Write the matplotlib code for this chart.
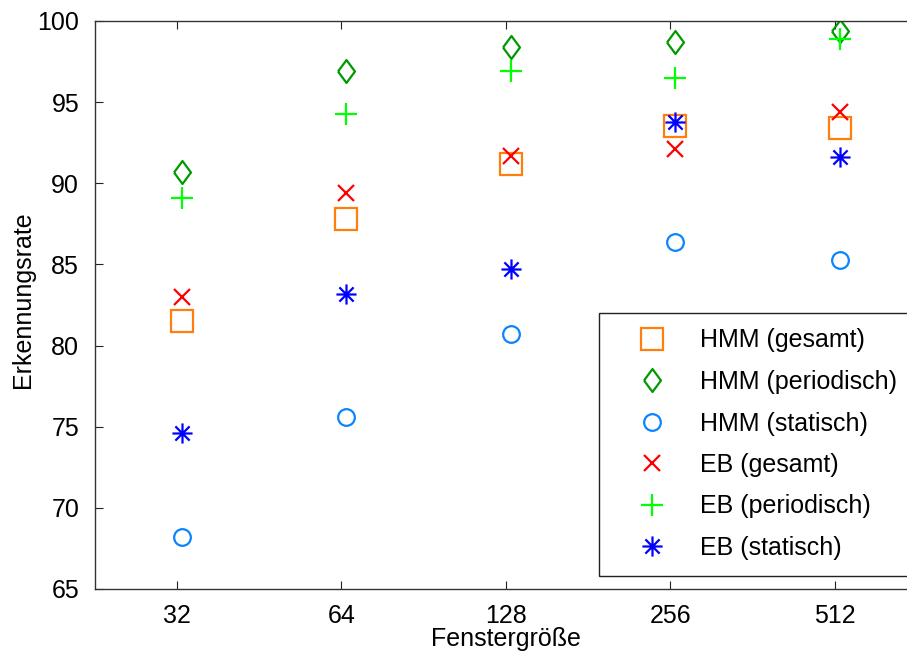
import numpy as np
import matplotlib
matplotlib.use("Agg")
import matplotlib.pyplot as plt
from matplotlib.path import Path

plt.rcParams['font.family'] = ['Liberation Sans', 'DejaVu Sans']

# Daten
fenster = ['32', '64', '128', '256', '512']
hmm_gesamt = [81.5, 87.8, 91.2, 93.5, 93.4]
hmm_periodisch = [90.7, 96.9, 98.4, 98.7, 99.4]
hmm_statisch = [68.2, 75.6, 80.7, 86.4, 85.3]
eb_gesamt = [83.0, 89.4, 91.7, 92.1, 94.4]
eb_periodisch = [89.1, 94.3, 96.9, 96.5, 98.9]
eb_statisch = [74.6, 83.2, 84.7, 93.8, 91.6]

# Sternchen wie in MATLAB (plus + x)
a = 0.707
stern = Path([(0, -1), (0, 1), (-1, 0), (1, 0), (-a, -a), (a, a), (-a, a), (a, -a)],
             [Path.MOVETO, Path.LINETO] * 4)
raute = [(-0.37, 0), (0, 0.5), (0.37, 0), (0, -0.5), (-0.37, 0)]

fig = plt.figure(figsize=(9.07, 6.52), dpi=100)
ax = fig.add_axes([94.5 / 907, 63 / 652, 822.5 / 907, 568 / 652])

x = np.arange(1, len(fenster) + 1) + 0.03  # Marker leicht rechts vom Tick

serien = [
    (hmm_gesamt, 's', '#ff7f0e', 16, 'HMM (gesamt)'),
    (hmm_periodisch, raute, '#009900', 16.5, 'HMM (periodisch)'),
    (hmm_statisch, 'o', '#0a84ff', 12, 'HMM (statisch)'),
    (eb_gesamt, 'x', '#ff0000', 12, 'EB (gesamt)'),
    (eb_periodisch, '+', '#00ff00', 15.5, 'EB (periodisch)'),
    (eb_statisch, stern, '#0000ff', 14.5, 'EB (statisch)'),
]
for werte, m, farbe, ms, name in serien:
    ax.plot(x, werte, linestyle='none', marker=m, markersize=ms,
            markerfacecolor='none', markeredgecolor=farbe, markeredgewidth=1.6,
            label=name)

ax.set_xlim(0.5, 5.5)
ax.set_ylim(65, 100)
ax.set_xticks(np.arange(1, len(fenster) + 1))
ax.set_xticklabels(fenster)
ax.set_yticks(np.arange(65, 101, 5))
ax.tick_params(direction='in', length=6, width=0.8, labelsize=18, pad=11,
               top=True, right=True, colors='#222222', labelcolor='black')
for s in ax.spines.values():
    s.set_color('#333333')
    s.set_linewidth(1.0)

ax.set_xlabel('Fenstergröße', fontsize=18, labelpad=-1)
ax.set_ylabel('Erkennungsrate', fontsize=18)
ax.yaxis.set_label_coords(-0.072, 0.51)

leg = ax.legend(loc='upper left', bbox_to_anchor=(599 / 907, 1 - 313 / 652),
                bbox_transform=fig.transFigure, borderaxespad=0, fontsize=18,
                fancybox=False, frameon=True, edgecolor='#222222', framealpha=1,
                borderpad=0.62, labelspacing=0.70, handlelength=3.0,
                handletextpad=0.40, numpoints=1)
leg.get_frame().set_linewidth(1.0)

fig.savefig('out.png', dpi=100)
